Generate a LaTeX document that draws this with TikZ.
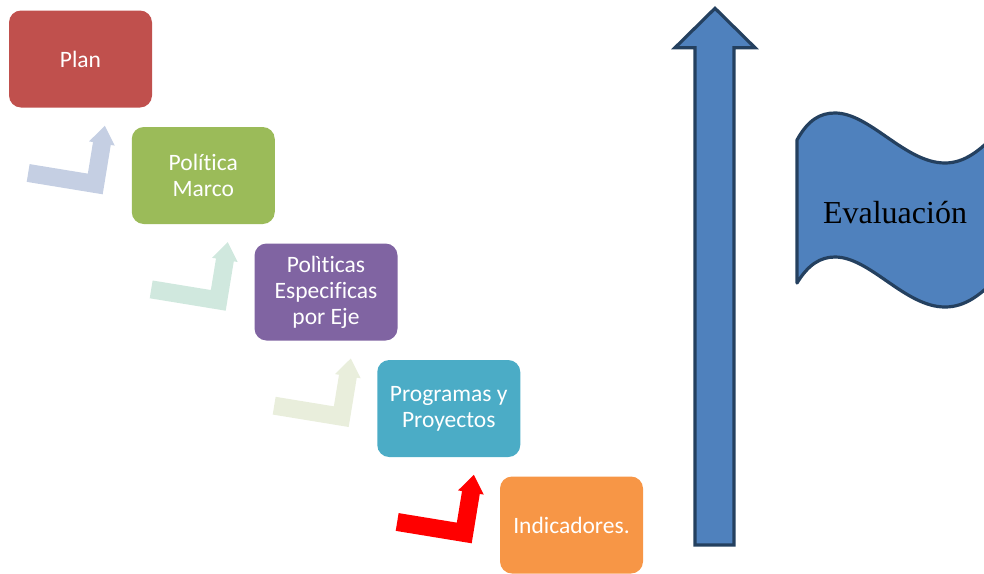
\documentclass[tikz,border=0pt]{standalone}
\usepackage{fontspec}
\setmainfont{Carlito}[Ligatures={NoCommon}]
\newfontfamily\evalfont{Liberation Serif}
\usepackage{tikz}
\definecolor{planred}{HTML}{C0504D}
\definecolor{marcogreen}{HTML}{9BBB59}
\definecolor{ejepurple}{HTML}{8064A2}
\definecolor{progcyan}{HTML}{4BACC6}
\definecolor{indorange}{HTML}{F79646}
\definecolor{fadeblue}{HTML}{C5CFE3}
\definecolor{fadegreen}{HTML}{D0E8DE}
\definecolor{fadeolive}{HTML}{E9EEDC}
\definecolor{evalblue}{HTML}{4F81BD}
\definecolor{evalline}{HTML}{24405F}
\tikzset{
	boxstyle/.style={rectangle,rounded corners=12pt,minimum width=143pt,minimum height=97pt,inner sep=0pt,align=center,text=white,font=\fontsize{23.5}{26}\selectfont},
	flagstyle/.style={fill=evalblue,draw=evalline,line width=3.2pt,line join=round},
	bentarrow/.pic={
		\fill[pic actions] (0,0) -- (-77,0) -- (-77,-18) -- (-18,-18) -- (-18,-50) -- (-22,-50) -- (-9,-68) -- (4,-50) -- (0,-50) -- cycle;
	}
}

\begin{document}
\begin{tikzpicture}[x=1pt,y=-1pt]
	\useasboundingbox (0,0) rectangle (984,573);
	\clip (0,0) rectangle (984,573);
	\node[boxstyle,fill=planred] (plan) at (80.5,59) {Plan};
	\node[boxstyle,fill=marcogreen] (marco) at (203.25,175.5) {Política\\Marco};
	\node[boxstyle,fill=ejepurple] (eje) at (326,292) {Polìticas\\Especificas\\por Eje};
	\node[boxstyle,fill=progcyan] (prog) at (448.75,408.5) {Programas y\\Proyectos};
	\node[boxstyle,fill=indorange] (ind) at (571.5,525) {Indicadores.};
	\pic[fill=fadeblue,rotate=-9.3] at (102.7,194.3) {bentarrow};
	\pic[fill=fadegreen,rotate=-9.3] at (225.7,310.7) {bentarrow};
	\pic[fill=fadeolive,rotate=-9.3] at (348.7,427) {bentarrow};
	\pic[fill=red,rotate=-9.3] at (471.7,543.3) {bentarrow};
	% big arrow
	\draw[flagstyle,line join=miter] (695,545) -- (695,47.7) -- (675,47.7) -- (715,8.3) -- (755,47.7) -- (734,47.7) -- (734,545) -- cycle;
	% flag
	\draw[flagstyle] (797,140) .. controls (808,120) and (820,113) .. (835,113) .. controls (870,113) and (905,163) .. (945,163) .. controls (965,163) and (980,150) .. (995,135) -- (995,280) .. controls (980,295) and (965,307) .. (945,307) .. controls (905,307) and (870,257) .. (835,257) .. controls (820,257) and (808,265) .. (797,283) -- cycle;
	\node[font=\evalfont\fontsize{32}{36}\selectfont] (eval) at (895,213) {Evaluación};
\end{tikzpicture}
\end{document}
